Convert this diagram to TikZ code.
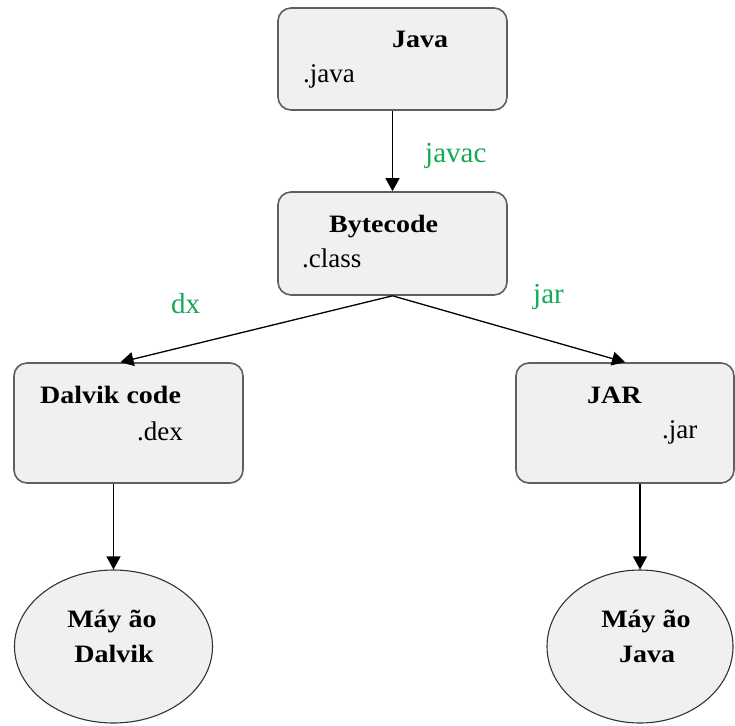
\documentclass[tikz,border=0pt]{standalone}
\usepackage{fontspec}
\setmainfont{Liberation Serif}
\newfontfamily\wideserif[FakeStretch=1.12]{Liberation Serif}
\usetikzlibrary{arrows.meta,shapes.geometric}
\definecolor{boxgray}{RGB}{240,240,240}
\definecolor{boxline}{RGB}{95,95,95}
\definecolor{toolgreen}{RGB}{20,170,85}
\tikzset{
  stagebox/.style={draw=boxline, line width=1.6pt, fill=boxgray,
    rounded corners=13pt, inner sep=0pt},
  vmshape/.style={ellipse, draw=black!80, line width=1.1pt, fill=boxgray, inner sep=0pt},
  title/.style={font=\wideserif\bfseries\fontsize{25}{30}\selectfont, anchor=base west, inner sep=0pt},
  ext/.style={font=\fontsize{27}{32}\selectfont, anchor=base west, inner sep=0pt},
  tool/.style={font=\fontsize{29}{34}\selectfont, text=toolgreen, anchor=base west, inner sep=0pt},
  flow/.style={line width=1.3pt, -{Triangle[length=13pt,width=14pt]}}
}
\begin{document}
\begin{tikzpicture}[x=1pt,y=-1pt]
\useasboundingbox (0,0) rectangle (735,725);

% stages of the build
\node[stagebox, minimum width=229pt, minimum height=102pt] (java) at (392.5,59) {};
\node[stagebox, minimum width=229pt, minimum height=103pt] (byte) at (392.5,243.5) {};
\node[stagebox, minimum width=229pt, minimum height=120pt] (dalvik) at (128.5,423) {};
\node[stagebox, minimum width=218pt, minimum height=120pt] (jar) at (625,423) {};

% virtual machines
\node[vmshape, minimum width=198pt, minimum height=153pt] (dvm) at (113.5,646.5) {};
\node[vmshape, minimum width=186pt, minimum height=153pt] (jvm) at (640,646.5) {};

% texts inside the boxes
\node[title] (javaT) at (392,48) {Java};
\node[ext] (javaE) at (303,82) {.java};
\node[title] (byteT) at (329,232) {Bytecode};
\node[ext] (byteE) at (302,267) {.class};
\node[title] (dalT) at (40,403) {Dalvik code};
\node[ext] (dalE) at (137,440) {.dex};
\node[title] (jarT) at (587,403) {JAR};
\node[ext] (jarE) at (662,438) {.jar};

\node[title, anchor=base] (dvmT1) at (112,627) {Máy ão};
\node[title, anchor=base] (dvmT2) at (114,662) {Dalvik};
\node[title, anchor=base] (jvmT1) at (646,627) {Máy ão};
\node[title, anchor=base] (jvmT2) at (647,662) {Java};

% tool labels
\node[tool] (javacL) at (425,162) {javac};
\node[tool] (dxL) at (171,313) {dx};
\node[tool] (jarL) at (533,303) {jar};

% connectors
\draw[flow] (java) -- (byte);
\draw[flow] (byte.south) -- ([xshift=-8pt]dalvik.north);
\draw[flow] (byte.south) -- (jar.north);
\draw[flow] (dalvik.south -| dvm.north) -- (dvm.north);
\draw[flow] (jar.south -| jvm.north) -- (jvm.north);
\end{tikzpicture}
\end{document}
